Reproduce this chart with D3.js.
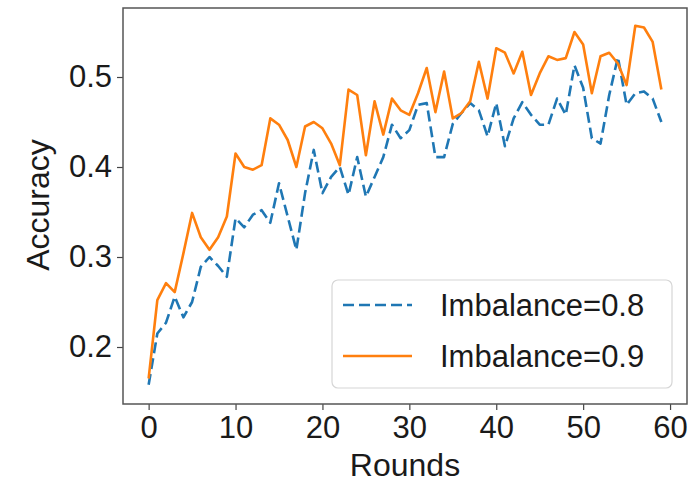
<!DOCTYPE html>
<html>
<head>
<meta charset="utf-8">
<script src="https://cdn.jsdelivr.net/npm/d3@7"></script>
<style>
  body { margin: 0; background: #fff; }
  svg text { font-family: "Liberation Sans", Arial, sans-serif; fill: #1a1a1a; }
</style>
</head>
<body>
<div id="chart"></div>
<script>
// Accuracy per round
const rounds = d3.range(0, 60);

const acc08 = [
  0.158, 0.215, 0.227, 0.256, 0.233, 0.250, 0.289, 0.300, 0.290, 0.278,
  0.343, 0.333, 0.347, 0.352, 0.338, 0.382, 0.345, 0.308, 0.371, 0.419,
  0.371, 0.389, 0.400, 0.369, 0.411, 0.367, 0.389, 0.411, 0.447, 0.432,
  0.441, 0.469, 0.471, 0.411, 0.411, 0.448, 0.460, 0.471, 0.463, 0.434,
  0.471, 0.423, 0.454, 0.472, 0.458, 0.447, 0.447, 0.476, 0.458, 0.513,
  0.488, 0.432, 0.426, 0.480, 0.522, 0.469, 0.482, 0.484, 0.476, 0.450
];

const acc09 = [
  0.165, 0.252, 0.271, 0.261, 0.304, 0.349, 0.322, 0.308, 0.322, 0.345,
  0.415, 0.400, 0.397, 0.402, 0.454, 0.447, 0.430, 0.400, 0.445, 0.450,
  0.443, 0.426, 0.402, 0.486, 0.480, 0.413, 0.473, 0.436, 0.476, 0.463,
  0.458, 0.482, 0.510, 0.461, 0.506, 0.454, 0.460, 0.473, 0.517, 0.476,
  0.532, 0.527, 0.504, 0.528, 0.480, 0.504, 0.523, 0.519, 0.521, 0.550,
  0.536, 0.482, 0.523, 0.527, 0.515, 0.491, 0.557, 0.555, 0.539, 0.486
];

const series = [
  { name: 'Imbalance=0.8', values: acc08, color: '#1f77b4', dash: '11,5' },
  { name: 'Imbalance=0.9', values: acc09, color: '#ff7f0e', dash: null }
];

const xTicks = [0, 10, 20, 30, 40, 50, 60];
const yTicks = [0.2, 0.3, 0.4, 0.5];

const width = 689;
const height = 483;
const margin = { top: 8, right: 2, bottom: 79, left: 123 };

const svg = d3.select('#chart')
  .append('svg')
  .attr('width', width)
  .attr('height', height);

// matplotlib-like 5% margins around the data
const x = d3.scaleLinear()
  .domain([-2.95, 61.95])
  .range([margin.left, width - margin.right]);

const y = d3.scaleLinear()
  .domain([0.13667, 0.57667])
  .range([height - margin.bottom, margin.top]);

// Axes
const xAxis = svg.append('g')
  .attr('transform', `translate(0,${height - margin.bottom})`)
  .call(d3.axisBottom(x).tickValues(xTicks).tickSize(6).tickPadding(6).tickFormat(d3.format('d')));

const yAxis = svg.append('g')
  .attr('transform', `translate(${margin.left},0)`)
  .call(d3.axisLeft(y).tickValues(yTicks).tickSize(6).tickPadding(5).tickFormat(d3.format('.1f')));

[xAxis, yAxis].forEach(a => {
  a.select('.domain').remove();
  a.selectAll('.tick line').attr('stroke', '#444').attr('stroke-width', 1.2);
  a.selectAll('.tick text').style('font-size', '31px').attr('fill', '#1a1a1a');
});

// Lines
const line = d3.line()
  .x((d, i) => x(rounds[i]))
  .y(d => y(d));

series.forEach(s => {
  svg.append('path')
    .datum(s.values)
    .attr('fill', 'none')
    .attr('stroke', s.color)
    .attr('stroke-width', 2.6)
    .attr('stroke-linejoin', 'round')
    .attr('stroke-dasharray', s.dash)
    .attr('d', line);
});

// Frame
svg.append('rect')
  .attr('x', margin.left)
  .attr('y', margin.top)
  .attr('width', width - margin.left - margin.right)
  .attr('height', height - margin.top - margin.bottom)
  .attr('fill', 'none')
  .attr('stroke', '#555')
  .attr('stroke-width', 1.5);

// Axis labels
svg.append('text')
  .attr('x', (margin.left + width - margin.right) / 2)
  .attr('y', 476)
  .attr('text-anchor', 'middle')
  .style('font-size', '32px')
  .text('Rounds');

svg.append('text')
  .attr('transform', `translate(49,${205}) rotate(-90)`)
  .attr('text-anchor', 'middle')
  .style('font-size', '32px')
  .text('Accuracy');

// Legend
const legend = svg.append('g');

legend.append('rect')
  .attr('x', 332)
  .attr('y', 280)
  .attr('width', 340)
  .attr('height', 108)
  .attr('rx', 6)
  .attr('fill', 'rgba(255,255,255,0.8)')
  .attr('stroke', '#d6d6d6')
  .attr('stroke-width', 1.2);

series.forEach((s, i) => {
  const ly = 305 + i * 51;
  legend.append('line')
    .attr('x1', 343)
    .attr('x2', 412)
    .attr('y1', ly)
    .attr('y2', ly)
    .attr('stroke', s.color)
    .attr('stroke-width', 2.6)
    .attr('stroke-dasharray', s.dash);
  legend.append('text')
    .attr('x', 440)
    .attr('y', ly + 11)
    .style('font-size', '31px')
    .text(s.name);
});
</script>
</body>
</html>
